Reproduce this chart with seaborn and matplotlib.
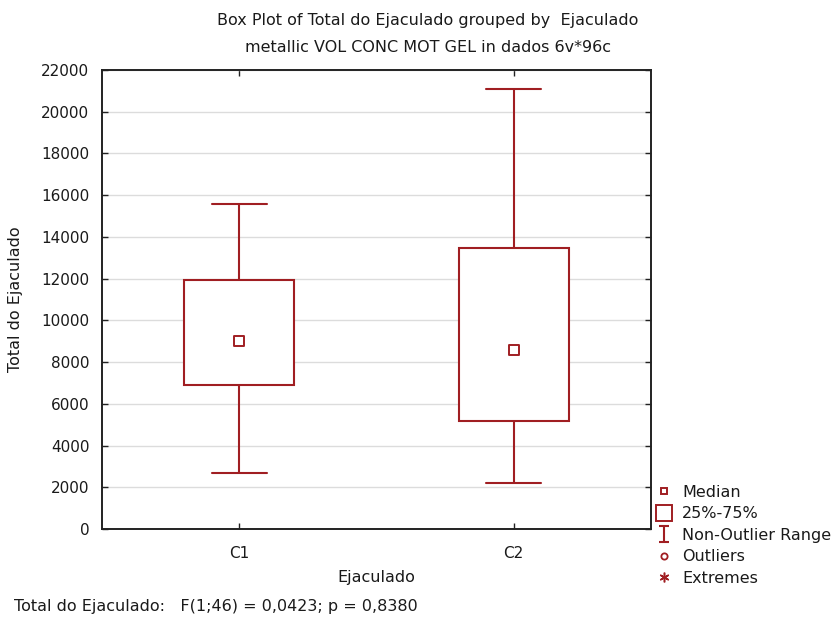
import matplotlib
matplotlib.use("Agg")
import matplotlib.pyplot as plt
from matplotlib.lines import Line2D
from matplotlib.path import Path
import numpy as np
import pandas as pd
import seaborn as sns

# Group summaries (Total do Ejaculado by Ejaculado group)
categories = ["C1", "C2"]
whisker_low = [2700, 2200]
quartile_1 = [6900, 5200]
medians = [9000, 8600]
quartile_3 = [11950, 13450]
whisker_high = [15600, 21100]

y_ticks = list(range(0, 22001, 2000))

title_line1 = "Box Plot of Total do Ejaculado grouped by  Ejaculado"
title_line2 = "metallic VOL CONC MOT GEL in dados 6v*96c"
footer = "Total do Ejaculado:   F(1;46) = 0,0423; p = 0,8380"
legend_labels = ["Median", "25%-75%", "Non-Outlier Range", "Outliers", "Extremes"]

# Five-number rows per group: quartiles and whisker ends reproduce the box exactly
rows = []
for cat, lo, q1, md, q3, hi in zip(categories, whisker_low, quartile_1,
                                   medians, quartile_3, whisker_high):
    for v in (lo, q1, md, q3, hi):
        rows.append({"Ejaculado": cat, "Total do Ejaculado": v})
df = pd.DataFrame(rows)
med_df = pd.DataFrame({"Ejaculado": categories, "Total do Ejaculado": medians})

RED = "#a01e22"
TXT = "#1a1a1a"
FS = 11.5
FS_TICK = 11

sns.set_theme(style="white")
plt.rcParams["font.family"] = ["DejaVu Sans"]
plt.rcParams["text.color"] = TXT

fig = plt.figure(figsize=(8.36, 6.19), dpi=100)
ax = fig.add_axes([102 / 836, 1 - 529 / 619, (651 - 102) / 836, (529 - 70) / 619])

sns.boxplot(data=df, x="Ejaculado", y="Total do Ejaculado", ax=ax,
            order=categories, width=0.4, whis=1.5, color="white",
            linecolor=RED, linewidth=1.5, showfliers=False,
            medianprops={"visible": False})
sns.stripplot(data=med_df, x="Ejaculado", y="Total do Ejaculado", ax=ax,
              order=categories, jitter=False, marker="s", size=6.5,
              color="white", edgecolor=RED, linewidth=1.4, zorder=5)

ax.set_xlim(-0.5, 1.5)
ax.set_ylim(0, 22000)
ax.set_yticks(y_ticks)
ax.set_yticklabels([str(t) for t in y_ticks])
ax.yaxis.grid(True, color="#dcdcdc", linewidth=1.0)
ax.set_axisbelow(True)
for s in ax.spines.values():
    s.set_visible(True)
    s.set_color("#222222")
    s.set_linewidth(1.4)
ax.tick_params(axis="both", direction="in", length=4, width=1.0,
               colors="#222222", labelcolor=TXT, labelsize=FS_TICK,
               top=True, right=True, bottom=True, left=True)
ax.tick_params(axis="y", pad=9)
ax.tick_params(axis="x", pad=12)

ax.set_xlabel("Ejaculado", fontsize=FS, color=TXT, labelpad=7)
ax.set_ylabel("Total do Ejaculado", fontsize=FS, color=TXT, labelpad=13)

fig.text(428 / 836, 1 - 20 / 619, title_line1, ha="center", va="center",
         fontsize=FS, color=TXT)
fig.text(428 / 836, 1 - 47 / 619, title_line2, ha="center", va="center",
         fontsize=FS, color=TXT)
fig.text(14 / 836, 1 - 606 / 619, footer, ha="left", va="center",
         fontsize=FS, color=TXT)

# Legend glyphs in the Statistica style
ibeam = Path([(-0.27, 0.5), (0.27, 0.5), (0, 0.5), (0, -0.5), (-0.27, -0.5), (0.27, -0.5)],
             [Path.MOVETO, Path.LINETO, Path.MOVETO, Path.LINETO, Path.MOVETO, Path.LINETO])
handles = [
    Line2D([], [], linestyle="none", marker="s", markersize=5,
           markerfacecolor="white", markeredgecolor=RED, markeredgewidth=1.4),
    Line2D([], [], linestyle="none", marker="s", markersize=11.5,
           markerfacecolor="white", markeredgecolor=RED, markeredgewidth=1.4),
    Line2D([], [], linestyle="none", marker=ibeam, markersize=12,
           markerfacecolor="none", markeredgecolor=RED, markeredgewidth=1.5),
    Line2D([], [], linestyle="none", marker="o", markersize=4.5,
           markerfacecolor="white", markeredgecolor=RED, markeredgewidth=1.3),
    Line2D([], [], linestyle="none", marker=(6, 2, 0), markersize=7,
           markeredgecolor=RED, markeredgewidth=1.1),
]
fig.legend(handles=handles, labels=legend_labels, loc="upper left",
           bbox_to_anchor=(656 / 836, 1 - 485 / 619), frameon=False,
           fontsize=FS, handlelength=1.0, handletextpad=0.62,
           labelspacing=0.4, borderpad=0, borderaxespad=0)

fig.savefig("out.png", dpi=100)
